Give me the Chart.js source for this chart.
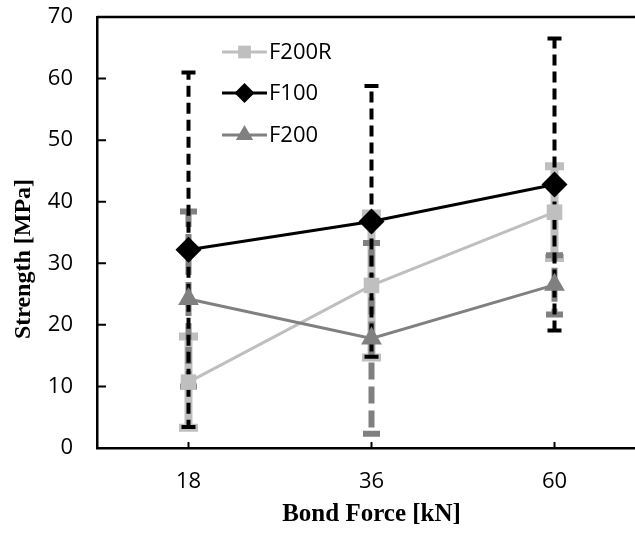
<!DOCTYPE html>
<html>
<head>
<meta charset="utf-8">
<script src="https://cdn.jsdelivr.net/npm/chart.js@4/dist/chart.umd.min.js"></script>
<style>
  html, body { margin: 0; padding: 0; background: #fff; overflow: hidden; width: 635px; height: 533px; }
  #wrap { width: 659px; height: 533px; }
</style>
</head>
<body>
<div id="wrap"><canvas id="c" width="659" height="533"></canvas></div>
<script>
// ---- data ----
const categories = ['18', '36', '60'];
const seriesNames = ['F200R', 'F100', 'F200'];
const f200rValues = [10.7, 26.4, 38.3];
const f200rErrors = [7.4, 11.7, 7.45];
const f100Values = [32.2, 36.8, 42.8];
const f100Errors = [28.8, 22.0, 23.7];
const f200Values = [24.2, 17.8, 26.5];
const f200Errors = [14.2, 15.5, 4.8];
const yTicks = [0, 10, 20, 30, 40, 50, 60, 70];
const xTitle = 'Bond Force [kN]';
const yTitle = 'Strength [MPa]';

const LIGHT = '#BFBFBF', MID = '#808080', BLACK = '#000000';
const tickFont = { family: '"Open Sans"', size: 22 };

const errorStyles = [
  { color: LIGHT, width: 8, dash: [], cap: 19 },
  { color: BLACK, width: 4, dash: [11, 6], cap: 14 },
  { color: MID, width: 6, dash: [17, 7], cap: 17 }
];
const errorSets = [f200rErrors, f100Errors, f200Errors];

const errorBarPlugin = {
  id: 'errorBars',
  beforeDatasetsDraw(chart) {
    const ctx = chart.ctx;
    const ys = chart.scales.y;
    const drawOrder = [0, 2, 1];
    drawOrder.forEach(di => {
      const meta = chart.getDatasetMeta(di);
      const ds = chart.data.datasets[di];
      const st = errorStyles[di];
      meta.data.forEach((pt, i) => {
        const v = ds.data[i], e = errorSets[di][i];
        const x = pt.x;
        const yTop = ys.getPixelForValue(v + e);
        const yBot = ys.getPixelForValue(v - e);
        const yMid = ys.getPixelForValue(v);
        ctx.save();
        ctx.strokeStyle = st.color;
        ctx.lineWidth = st.width;
        ctx.setLineDash(st.dash);
        ctx.beginPath();
        ctx.moveTo(x, yMid); ctx.lineTo(x, yTop);
        ctx.moveTo(x, yMid); ctx.lineTo(x, yBot);
        ctx.stroke();
        ctx.setLineDash([]);
        ctx.lineWidth = Math.max(st.width, 4);
        ctx.beginPath();
        ctx.moveTo(x - st.cap / 2, yTop); ctx.lineTo(x + st.cap / 2, yTop);
        ctx.moveTo(x - st.cap / 2, yBot); ctx.lineTo(x + st.cap / 2, yBot);
        ctx.stroke();
        ctx.restore();
      });
    });
  }
};

const framePlugin = {
  id: 'frame',
  afterDraw(chart) {
    const ctx = chart.ctx;
    const a = chart.chartArea;
    const ys = chart.scales.y, xs = chart.scales.x;
    ctx.save();
    ctx.strokeStyle = '#000';
    ctx.lineWidth = 2.5;
    ctx.beginPath();
    ctx.moveTo(a.left, a.top); ctx.lineTo(chart.width, a.top);
    ctx.stroke();
    ctx.lineWidth = 2;
    ctx.beginPath();
    yTicks.forEach(t => {
      if (t === 0 || t === 70) return;
      const y = ys.getPixelForValue(t);
      ctx.moveTo(a.left, y); ctx.lineTo(a.left + 9, y);
    });
    categories.forEach((c, i) => {
      const x = xs.getPixelForValue(i);
      ctx.moveTo(x, a.bottom); ctx.lineTo(x, a.bottom - 6);
    });
    ctx.stroke();
    // y axis title
    ctx.fillStyle = '#000';
    ctx.font = 'bold 24px "Liberation Serif"';
    ctx.textAlign = 'center';
    ctx.textBaseline = 'middle';
    ctx.translate(24, 259);
    ctx.rotate(-Math.PI / 2);
    ctx.fillText(yTitle, 0, 0);
    ctx.restore();
  }
};

const legendPlugin = {
  id: 'customLegend',
  afterDatasetsDraw(chart) {
    const ctx = chart.ctx;
    const rows = [52, 93, 135];
    const sizes = [9, 10, 10];
    chart.data.datasets.forEach((ds, i) => {
      const y = rows[i];
      ctx.save();
      ctx.strokeStyle = ds.borderColor;
      ctx.lineWidth = 3;
      ctx.beginPath();
      ctx.moveTo(222, y); ctx.lineTo(267, y);
      ctx.stroke();
      ctx.fillStyle = ds.backgroundColor;
      Chart.helpers.drawPoint(ctx, {
        pointStyle: ds.pointStyle, rotation: 0, radius: sizes[i], borderWidth: 0
      }, 244.5, y);
      ctx.fillStyle = '#000';
      ctx.font = '22px "Open Sans"';
      ctx.textAlign = 'left';
      ctx.textBaseline = 'middle';
      ctx.fillText(ds.label, 269, y + 1);
      ctx.restore();
    });
  }
};

new Chart(document.getElementById('c'), {
  type: 'line',
  data: {
    labels: categories,
    datasets: [
      { label: seriesNames[0], data: f200rValues, borderColor: LIGHT, backgroundColor: LIGHT,
        borderWidth: 3, pointStyle: 'rect', pointRadius: 11, pointBorderWidth: 0, order: 3 },
      { label: seriesNames[1], data: f100Values, borderColor: BLACK, backgroundColor: BLACK,
        borderWidth: 3, pointStyle: 'rectRot', pointRadius: 13, pointBorderWidth: 0, order: 2 },
      { label: seriesNames[2], data: f200Values, borderColor: MID, backgroundColor: MID,
        borderWidth: 3, pointStyle: 'triangle', pointRadius: 12, pointBorderWidth: 0, order: 1 }
    ]
  },
  options: {
    responsive: false,
    animation: false,
    layout: { autoPadding: false, padding: { top: 17, right: 13, left: 0, bottom: 0 } },
    plugins: { legend: { display: false }, tooltip: { enabled: false } },
    scales: {
      x: {
        type: 'category',
        offset: true,
        grid: { display: true, drawOnChartArea: false, drawTicks: true, tickLength: 21, color: 'rgba(0,0,0,0)' },
        border: { display: true, color: '#000', width: 2.5 },
        ticks: { color: '#000', font: tickFont, padding: 0, maxRotation: 0 },
        title: { display: true, text: xTitle, color: '#000',
          font: { family: '"Liberation Serif"', size: 25, weight: 'bold', lineHeight: 1.2 },
          padding: { top: 0, bottom: 3 } },
        afterFit(s) { s.height = 85; }
      },
      y: {
        min: 0, max: 70,
        afterBuildTicks(s) { s.ticks = yTicks.map(v => ({ value: v })); },
        grid: { display: true, drawOnChartArea: false, drawTicks: true, tickLength: 24, color: 'rgba(0,0,0,0)' },
        border: { display: true, color: '#000', width: 2.5 },
        ticks: { color: '#000', font: tickFont, padding: 0 },
        afterFit(s) { s.width = 97; }
      }
    }
  },
  plugins: [errorBarPlugin, framePlugin, legendPlugin]
});
</script>
</body>
</html>
